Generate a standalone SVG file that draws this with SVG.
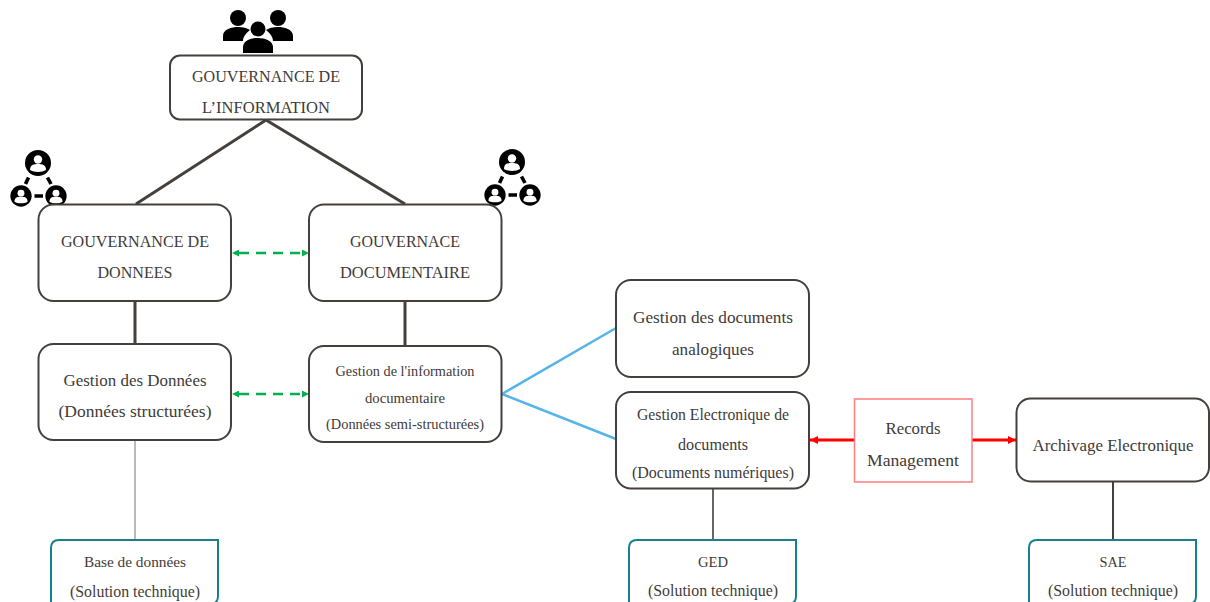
<svg xmlns="http://www.w3.org/2000/svg" xmlns:xlink="http://www.w3.org/1999/xlink" width="1210" height="602" viewBox="0 0 1210 602">
<style>
text{font-family:"Liberation Serif","Times New Roman",serif;fill:#3f3b38;text-anchor:middle}
.t18{font-size:17.500px}.t16{font-size:16.500px}.t14{font-size:14.500px}
.box{fill:#fff;stroke:#45403c;stroke-width:2}
.teal{fill:#fff;stroke:#17808a;stroke-width:2}
.dark{stroke:#45403c;stroke-width:3;fill:none}
.blue{stroke:#56b4ea;stroke-width:2.500;fill:none}
.green{stroke:#00b050;stroke-width:2.500;stroke-dasharray:10 7;fill:none}
.red{stroke:#f00;stroke-width:3;fill:none}
</style>
<defs>
<marker id="gs" markerUnits="userSpaceOnUse" viewBox="0 0 8 8" refX="0" refY="4" markerWidth="7" markerHeight="7" orient="auto-start-reverse"><path d="M0 0L8 4L0 8Z" fill="#00b050"/></marker>
<marker id="rs" markerUnits="userSpaceOnUse" viewBox="0 0 8 8" refX="8" refY="4" markerWidth="8" markerHeight="8" orient="auto"><path d="M0 0L8 4L0 8Z" fill="#f00"/></marker>
<g id="person"><circle r="13" fill="#000"/><circle cy="-3.500" r="4.200" fill="#fff"/><path d="M-8 7C-8 1.500-4 1 0 1S8 1.500 8 7C4 9.500-4 9.500-8 7Z" fill="#fff"/></g>
<g id="network">
<use xlink:href="#person" href="#person" x="0" y="0"/>
<use xlink:href="#person" href="#person" transform="translate(-17 33) scale(.82)"/>
<use xlink:href="#person" href="#person" transform="translate(18 33) scale(.82)"/>
<path d="M-9.500 14.500L-12.500 21M9.500 14.500L13 21M-3.500 33H5" stroke="#000" stroke-width="3.600" fill="none"/>
</g>
</defs>
<g id="connectors">
<path class="dark" d="M266 120L136 204M266 120L405 204M135 301V344M405 301V346"/>
<path d="M135 440V540" stroke="#a3a3a3" stroke-width="1.500" fill="none"/>
<path d="M713 488V540" stroke="#666" stroke-width="2" fill="none"/>
<path d="M1113 481V540" stroke="#45403c" stroke-width="2" fill="none"/>
<path class="blue" d="M616 328L502 394L616 439"/>
<path class="green" d="M239 253H302" marker-start="url(#gs)" marker-end="url(#gs)"/>
<path class="green" d="M239 394H302" marker-start="url(#gs)" marker-end="url(#gs)"/>
<path class="red" d="M854 440H810" marker-end="url(#rs)"/>
<path class="red" d="M972 440H1016" marker-end="url(#rs)"/>
</g>
<g id="icon-people" fill="#000">
<circle cx="238" cy="18" r="8"/><circle cx="278" cy="18" r="8"/>
<path d="M223 41V36C223 29 232 27 238 27C243 27 247 28 250 30C246 33 243 37 243 41Z"/>
<path d="M293 41V36C293 29 284 27 278 27C273 27 269 28 266 30C270 33 273 37 273 41Z"/>
<circle cx="258" cy="29" r="7.500"/>
<path d="M243 53V47C243 41 251 38 258 38S273 41 273 47V53Z"/>
</g>
<use id="icon-network-left" xlink:href="#network" href="#network" x="38" y="163"/>
<use id="icon-network-right" xlink:href="#network" href="#network" x="512" y="162"/>
<g id="n-gouv-info"><rect class="box" x="170" y="55.500" width="192" height="64" rx="10"/>
<text class="t16" x="266" y="82" textLength="148" lengthAdjust="spacingAndGlyphs">GOUVERNANCE DE</text>
<text class="t16" x="266" y="113" textLength="128" lengthAdjust="spacingAndGlyphs">L’INFORMATION</text></g>
<g id="n-gouv-donnees"><rect class="box" x="38.500" y="204.500" width="192.500" height="96.500" rx="15"/>
<text class="t16" x="135" y="247" textLength="148" lengthAdjust="spacingAndGlyphs">GOUVERNANCE DE</text>
<text class="t16" x="135" y="278" textLength="75" lengthAdjust="spacingAndGlyphs">DONNEES</text></g>
<g id="n-gouv-doc"><rect class="box" x="309" y="204.500" width="192.500" height="96.500" rx="15"/>
<text class="t16" x="405" y="247" textLength="110" lengthAdjust="spacingAndGlyphs">GOUVERNACE</text>
<text class="t16" x="405" y="278" textLength="130" lengthAdjust="spacingAndGlyphs">DOCUMENTAIRE</text></g>
<g id="n-gestion-donnees"><rect class="box" x="38.500" y="344" width="192.500" height="96" rx="15"/>
<text class="t18" x="135" y="386" textLength="143" lengthAdjust="spacingAndGlyphs">Gestion des Données</text>
<text class="t18" x="135" y="417" textLength="153" lengthAdjust="spacingAndGlyphs">(Données structurées)</text></g>
<g id="n-gestion-info"><rect class="box" x="309" y="346" width="192.500" height="96" rx="15"/>
<text class="t14" x="405" y="376" textLength="139" lengthAdjust="spacingAndGlyphs">Gestion de l'information</text>
<text class="t14" x="405" y="403" textLength="80" lengthAdjust="spacingAndGlyphs">documentaire</text>
<text class="t14" x="405" y="429" textLength="158" lengthAdjust="spacingAndGlyphs">(Données semi-structurées)</text></g>
<g id="n-analog"><rect class="box" x="616" y="280" width="193" height="97" rx="15"/>
<text class="t18" x="713" y="323" textLength="160" lengthAdjust="spacingAndGlyphs">Gestion des documents</text>
<text class="t18" x="713" y="355" textLength="82" lengthAdjust="spacingAndGlyphs">analogiques</text></g>
<g id="n-ged"><rect class="box" x="616" y="392" width="193" height="96.500" rx="15"/>
<text class="t16" x="713" y="420" textLength="152" lengthAdjust="spacingAndGlyphs">Gestion Electronique de</text>
<text class="t16" x="713" y="450" textLength="70" lengthAdjust="spacingAndGlyphs">documents</text>
<text class="t16" x="713" y="478" textLength="162" lengthAdjust="spacingAndGlyphs">(Documents numériques)</text></g>
<g id="n-records"><rect x="854.500" y="399" width="117.500" height="83" fill="#fff" stroke="#ff7c80" stroke-width="1.500"/>
<text class="t18" x="913" y="434" textLength="55" lengthAdjust="spacingAndGlyphs">Records</text>
<text class="t18" x="913" y="466" textLength="92" lengthAdjust="spacingAndGlyphs">Management</text></g>
<g id="n-archivage"><rect class="box" x="1016.500" y="398.500" width="192.500" height="83" rx="14"/>
<text class="t18" x="1113" y="451" textLength="161" lengthAdjust="spacingAndGlyphs">Archivage Electronique</text></g>
<g id="n-base"><path class="teal" d="M51 610V548Q51 540 59 540H218V596Q218 604 210 604"/>
<text class="t14" x="135" y="567" textLength="102" lengthAdjust="spacingAndGlyphs">Base de données</text>
<text class="t16" x="135" y="597" textLength="130" lengthAdjust="spacingAndGlyphs">(Solution technique)</text></g>
<g id="n-ged-tech"><path class="teal" d="M629 610V548Q629 540 637 540H796V596Q796 604 788 604"/>
<text class="t14" x="713" y="567" textLength="30" lengthAdjust="spacingAndGlyphs">GED</text>
<text class="t16" x="713" y="596" textLength="130" lengthAdjust="spacingAndGlyphs">(Solution technique)</text></g>
<g id="n-sae"><path class="teal" d="M1029 610V548Q1029 540 1037 540H1196V596Q1196 604 1188 604"/>
<text class="t14" x="1113" y="567" textLength="27" lengthAdjust="spacingAndGlyphs">SAE</text>
<text class="t16" x="1113" y="596" textLength="130" lengthAdjust="spacingAndGlyphs">(Solution technique)</text></g>
</svg>
